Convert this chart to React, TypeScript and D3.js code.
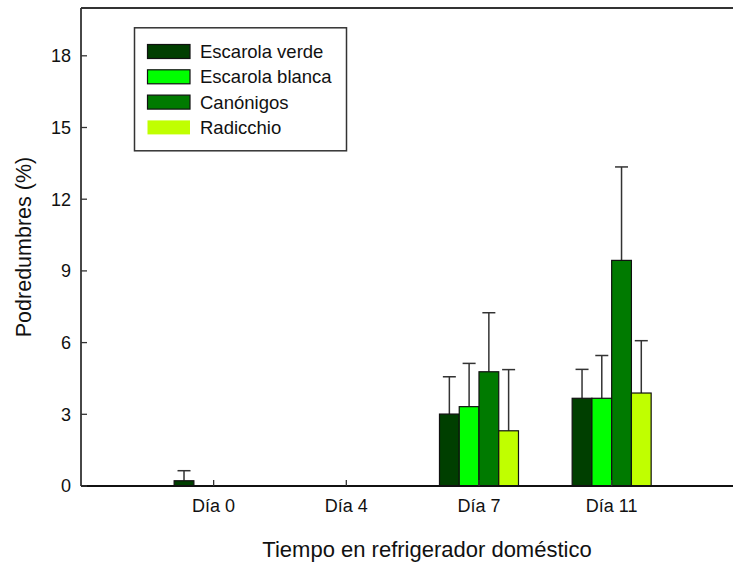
import React from "react";
import * as d3 from "d3";

const days = ["Día 0", "Día 4", "Día 7", "Día 11"];
const seriesNames = ["Escarola verde", "Escarola blanca", "Canónigos", "Radicchio"];
const seriesColors = ["#003F00", "#00FF00", "#007A00", "#C0FF00"];
// means per series, aligned with days (null = no bar)
const escarolaVerde = [0.22, null, 3.01, 3.67];
const escarolaBlanca = [null, null, 3.32, 3.67];
const canonigos = [null, null, 4.78, 9.44];
const radicchio = [null, null, 2.31, 3.89];
// standard deviations (upper error bars)
const escarolaVerdeSD = [0.42, null, 1.56, 1.21];
const escarolaBlancaSD = [null, null, 1.81, 1.79];
const canonigosSD = [null, null, 2.47, 3.91];
const radicchioSD = [null, null, 2.56, 2.19];
const yTicks = [0, 3, 6, 9, 12, 15, 18];

const means = [escarolaVerde, escarolaBlanca, canonigos, radicchio];
const sds = [escarolaVerdeSD, escarolaBlancaSD, canonigosSD, radicchioSD];

const W = 733, H = 563;
const left = 81, top = 8, bottom = 486, right = 733;
const FONT = "Liberation Sans, Arial, sans-serif";

export default function App() {
  const y = d3.scaleLinear().domain([0, 20]).range([bottom, top]);
  const x = d3.scaleBand().domain(days).range([147.3, 678]).padding(0);
  const inner = d3.scaleBand().domain(seriesNames).range([-39.5, 39.5]).padding(0);
  const bars: any[] = [];
  means.forEach((arr, si) => {
    arr.forEach((v, di) => {
      if (v == null) return;
      const cx = (x(days[di]) as number) + x.bandwidth() / 2;
      const bx = cx + (inner(seriesNames[si]) as number);
      const bw = inner.bandwidth();
      const sd = sds[si][di] as number;
      bars.push({ si, di, v, sd, bx, bw });
    });
  });
  return (
    <svg width={W} height={H} style={{ position: "absolute", left: 0, top: 0, background: "#fff" }}>
      <rect x={0} y={0} width={W} height={H} fill="#fff" />
      {/* error bars */}
      {bars.map((b, i) => {
        const mx = b.bx + b.bw / 2;
        return (
          <g key={"e" + i} stroke="#333" strokeWidth={1.5}>
            <line x1={mx} x2={mx} y1={y(b.v)} y2={y(b.v + b.sd)} />
            <line x1={mx - 6.5} x2={mx + 6.5} y1={y(b.v + b.sd)} y2={y(b.v + b.sd)} />
          </g>
        );
      })}
      {bars.map((b, i) => (
        <rect key={"b" + i} x={b.bx} y={y(b.v)} width={b.bw} height={bottom - y(b.v)}
          fill={seriesColors[b.si]} stroke="#111" strokeWidth={1.2} />
      ))}
      {/* frame */}
      <line x1={left} x2={right} y1={top} y2={top} stroke="#333" strokeWidth={1.8} />
      <line x1={left} x2={left} y1={top} y2={bottom} stroke="#333" strokeWidth={1.8} />
      <line x1={left} x2={right} y1={bottom} y2={bottom} stroke="#111" strokeWidth={1.8} />
      {/* y ticks */}
      {yTicks.map((t) => (
        <g key={"y" + t}>
          <line x1={left} x2={left + 6} y1={y(t)} y2={y(t)} stroke="#333" strokeWidth={1.3} />
          <text x={71} y={y(t)} dy="0.35em" textAnchor="end" fontFamily={FONT} fontSize={18} fill="#111">{t}</text>
        </g>
      ))}
      {/* x ticks */}
      {days.map((d) => {
        const cx = (x(d) as number) + x.bandwidth() / 2;
        return (
          <g key={"x" + d}>
            <line x1={cx} x2={cx} y1={bottom} y2={bottom - 6} stroke="#333" strokeWidth={1.3} />
            <text x={cx} y={512} textAnchor="middle" fontFamily={FONT} fontSize={18} fill="#111">{d}</text>
          </g>
        );
      })}
      {/* axis titles */}
      <text x={427} y={557} textAnchor="middle" fontFamily={FONT} fontSize={22} fill="#111">Tiempo en refrigerador doméstico</text>
      <text transform={`translate(31,${(top + bottom) / 2}) rotate(-90)`} textAnchor="middle" fontFamily={FONT} fontSize={21.5} fill="#111">Podredumbres (%)</text>
      {/* legend */}
      <rect x={134.5} y={27.8} width={212} height={123} fill="#fff" stroke="#333" strokeWidth={1.5} />
      {seriesNames.map((n, i) => (
        <g key={"l" + n}>
          <rect x={147.5} y={44.5 + i * 25.3} width={42.5} height={14} fill={seriesColors[i]}
            stroke={i === 3 ? "none" : "#111"} strokeWidth={1.2} />
          <text x={200} y={51.5 + i * 25.3} dy="0.35em" fontFamily={FONT} fontSize={18.5} fill="#111">{n}</text>
        </g>
      ))}
    </svg>
  );
}
